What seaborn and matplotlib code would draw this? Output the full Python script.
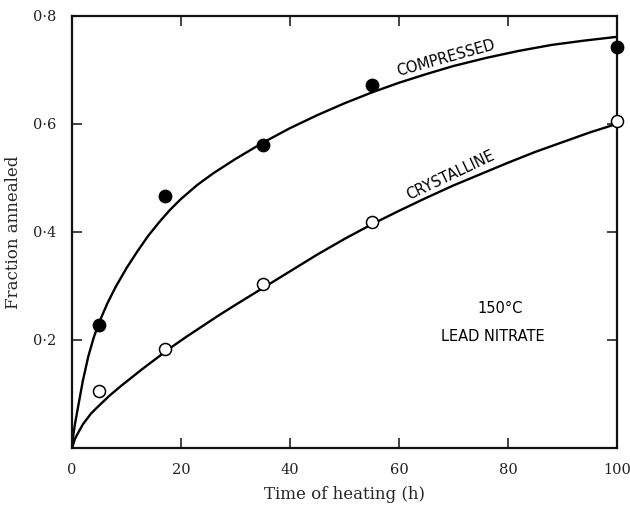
import matplotlib
matplotlib.use("Agg")
import pandas as pd
import seaborn as sns
from matplotlib import pyplot as plt

# measured points (time of heating in h, fraction annealed)
time_points = [5, 17, 35, 55, 100]
compressed_points = [0.228, 0.467, 0.560, 0.671, 0.742]
crystalline_points = [0.105, 0.183, 0.303, 0.418, 0.606]

# drawn curves
compressed_curve_x = [0, 0.25, 0.5, 1, 2, 3, 4, 5, 6.5, 8, 10, 12, 14, 16, 18, 20, 23, 26,
                      30, 35, 40, 45, 50, 55, 60, 65, 70, 76, 82, 88, 94, 100]
compressed_curve_y = [0, 0.025, 0.042, 0.070, 0.125, 0.170, 0.205, 0.233, 0.268, 0.298,
                      0.333, 0.364, 0.393, 0.418, 0.441, 0.461, 0.487, 0.509, 0.535, 0.565,
                      0.592, 0.616, 0.638, 0.658, 0.676, 0.692, 0.707, 0.722, 0.735, 0.746,
                      0.754, 0.761]
crystalline_curve_x = [0, 0.5, 1, 2, 3.5, 5, 7, 9, 11, 13, 15.5, 18, 21, 24, 27, 30, 35,
                       40, 45, 50, 55, 60, 65, 70, 75, 80, 85, 90, 95, 100]
crystalline_curve_y = [0, 0.016, 0.026, 0.044, 0.064, 0.079, 0.098, 0.115, 0.131, 0.147,
                       0.166, 0.185, 0.206, 0.226, 0.246, 0.265, 0.296, 0.327, 0.358, 0.387,
                       0.414, 0.439, 0.463, 0.486, 0.507, 0.528, 0.548, 0.566, 0.584, 0.600]

x_ticks = [0, 20, 40, 60, 80, 100]
y_ticks = [0.2, 0.4, 0.6, 0.8]
y_tick_labels = ["0\u00b72", "0\u00b74", "0\u00b76", "0\u00b78"]

sns.set_theme(style="ticks")
plt.rcParams["font.family"] = ["DejaVu Serif"]

fig = plt.figure(figsize=(6.3, 5.08), dpi=100)
ax = fig.add_axes([0.1143, 0.118, 0.865, 0.851])

curves = pd.concat([
    pd.DataFrame({"t": compressed_curve_x, "f": compressed_curve_y, "sample": "compressed"}),
    pd.DataFrame({"t": crystalline_curve_x, "f": crystalline_curve_y, "sample": "crystalline"}),
])
sns.lineplot(data=curves, x="t", y="f", units="sample", estimator=None, color="black",
             linewidth=1.7, ax=ax, legend=False, sort=False)

sns.scatterplot(x=time_points, y=compressed_points, color="black", edgecolor="black",
                s=80, linewidth=1, zorder=5, clip_on=False, ax=ax)
sns.scatterplot(x=time_points, y=crystalline_points, color="white", edgecolor="black",
                s=75, linewidth=1.1, zorder=5, clip_on=False, ax=ax)

ax.set_xlim(0, 100)
ax.set_ylim(0, 0.8)
ax.set_xticks(x_ticks)
ax.set_xticklabels([str(v) for v in x_ticks])
ax.set_yticks(y_ticks)
ax.set_yticklabels(y_tick_labels)
ax.tick_params(direction="in", length=7, width=1.2, top=True, right=True,
               labeltop=False, labelright=False, labelsize=10.5, pad=11, colors="#222222")
for side in ax.spines.values():
    side.set_linewidth(1.6)
    side.set_color("#111111")

ax.set_xlabel("Time of heating (h)", fontsize=12, labelpad=6)
ax.set_ylabel("Fraction annealed", fontsize=12, labelpad=8)

lettering = dict(family="DejaVu Sans", fontsize=10.5, color="black", ha="center")
ax.text(69.0, 0.709, "COMPRESSED", rotation=15.5, rotation_mode="anchor", va="bottom", **lettering)
ax.text(70.0, 0.493, "CRYSTALLINE", rotation=25.5, rotation_mode="anchor", va="bottom", **lettering)
ax.text(78.5, 0.259, "150\u00b0C", va="center", **lettering)
ax.text(77.3, 0.206, "LEAD NITRATE", va="center", **lettering)

fig.savefig("out.png", dpi=100)
